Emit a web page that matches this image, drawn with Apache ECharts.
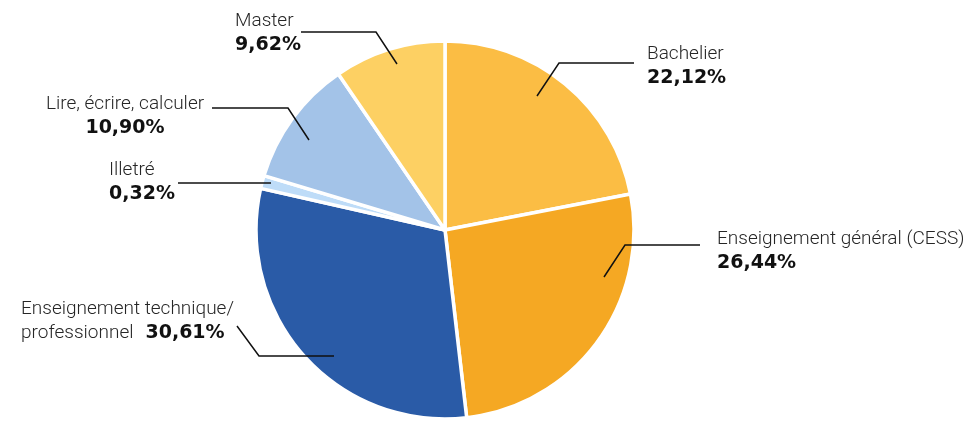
<!DOCTYPE html>
<html><head><meta charset="utf-8">
<script src="https://cdn.jsdelivr.net/npm/echarts@6/dist/echarts.min.js"></script>
<style>html,body{margin:0;padding:0;background:#fff}#c{width:979px;height:421px}</style>
</head><body><div id="c"></div>
<script>
// ---- data ----
const categories = ['Bachelier', 'Enseignement général (CESS)', 'Enseignement technique/ professionnel', 'Illetré', 'Lire, écrire, calculer', 'Master'];
const values = [22.12, 26.44, 30.61, 0.32, 10.90, 9.62];
const colors = ['#FBBD44', '#F5A823', '#2A5BA7', '#BEDCF8', '#A3C3E8', '#FDD063'];

// ---- label placement (annotation layout, not data) ----
const labelSpots = [
  { x: 647, y: 66,  align: 'left',   line: [[537, 96], [559, 63], [634, 63]] },
  { x: 717, y: 251, align: 'left',   line: [[604, 277], [625, 245], [700, 245]] },
  { x: 21,  y: 321, align: 'left',   line: [[334, 356], [259, 356], [237, 326]] },
  { x: 109, y: 182, align: 'left',   line: [[271, 183], [178, 183]] },
  { x: 125, y: 116, align: 'center', line: [[309, 140], [288, 108], [212, 108]] },
  { x: 235, y: 33,  align: 'left',   line: [[397, 64], [376, 32], [301, 32]] }
];

const pct = v => v.toFixed(2).replace('.', ',') + '%';
const chart = echarts.init(document.getElementById('c'), null, { renderer: 'canvas' });
const pieData = categories.map((name, i) => ({ name, value: values[i], itemStyle: { color: colors[i] } }));
const labelData = categories.map((name, i) => ({ name, value: values[i] }));

const common = {
  type: 'pie',
  center: [445, 230],
  radius: 189,
  startAngle: 90,
  clockwise: true,
  minAngle: 4,
  avoidLabelOverlap: false,
  emphasis: { disabled: true },
  silent: true
};

chart.setOption({
  animation: false,
  series: [
    Object.assign({}, common, {
      z: 2,
      itemStyle: { borderColor: '#fff', borderWidth: 3.5 },
      label: { show: false },
      labelLine: { show: false },
      data: pieData
    }),
    Object.assign({}, common, {
      z: 5,
      itemStyle: { color: 'rgba(0,0,0,0)', borderWidth: 0 },
      label: {
        show: true,
        position: 'outside',
        formatter: p => {
          if (p.dataIndex === 2) {
            return '{n|Enseignement technique/}\n{n|professionnel}{s| }{v|' + pct(p.value) + '}';
          }
          return '{n|' + p.name + '}\n{v|' + pct(p.value) + '}';
        },
        rich: {
          n: { fontFamily: 'Roboto', fontSize: 19, fontWeight: 300, color: '#262626', lineHeight: 24 },
          v: { fontFamily: 'DejaVu Sans', fontSize: 19, fontWeight: 'bold', color: '#111', lineHeight: 24 },
          s: { width: 12, fontSize: 10 }
        }
      },
      labelLine: { show: true, showAbove: true, smooth: false, lineStyle: { color: '#111', width: 1.5 } },
      labelLayout: p => {
        const s = labelSpots[p.dataIndex];
        return { x: s.x, y: s.y, align: s.align, verticalAlign: 'middle', labelLinePoints: s.line };
      },
      data: labelData
    })
  ]
});
</script>
</body></html>
